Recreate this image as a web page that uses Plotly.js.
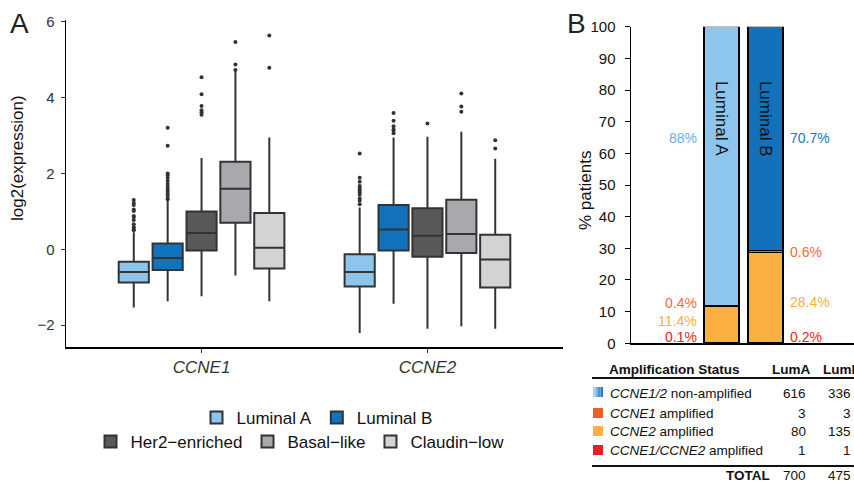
<!DOCTYPE html>
<html>
<head>
<meta charset="utf-8">
<script src="https://cdn.plot.ly/plotly-3.0.1.min.js"></script>
<style>html,body{margin:0;padding:0;background:#fff;}#chart{width:854px;height:482px;}</style>
</head>
<body>
<div id="chart"></div>
<script>
// ---------- Panel A data (box statistics) ----------
const genes = ['CCNE1', 'CCNE2'];
const subtypes = ['Luminal A', 'Luminal B', 'Her2\u2212enriched', 'Basal\u2212like', 'Claudin\u2212low'];
const subtypeColors = ['#8DC5EC', '#1272BC', '#58595B', '#A7A9AC', '#D1D3D4'];
const boxQ1 = [[-0.88, -0.98], [-0.55, -0.03], [-0.03, -0.20], [0.70, -0.10], [-0.51, -1.01]];
const boxMedian = [[-0.60, -0.60], [-0.23, 0.52], [0.43, 0.36], [1.60, 0.40], [0.04, -0.27]];
const boxQ3 = [[-0.33, -0.13], [0.15, 1.17], [1.00, 1.08], [2.31, 1.31], [0.96, 0.38]];
const boxLowerFence = [[-1.54, -2.21], [-1.37, -1.44], [-1.24, -2.10], [-0.69, -2.03], [-1.37, -2.10]];
const boxUpperFence = [[0.45, 1.10], [1.28, 2.95], [2.41, 2.97], [4.69, 3.10], [2.95, 2.39]];
const outliersLumA = [[0.50, 0.52, 0.58, 0.66, 0.77, 0.85, 0.88, 1.01, 1.05, 1.17, 1.22, 1.30],
                      [1.19, 1.28, 1.34, 1.44, 1.50, 1.56, 1.62, 1.67, 1.78, 1.89, 2.53]];
const outliersLumB = [[1.32, 1.38, 1.45, 1.52, 1.58, 1.65, 1.72, 1.80, 1.88, 1.95, 2.00, 2.73, 3.21],
                      [3.06, 3.13, 3.16, 3.25, 3.39, 3.60]];
const outliersHer2 = [[3.55, 3.62, 3.67, 3.78, 4.09, 4.54], [3.32]];
const outliersBasal = [[4.73, 4.88, 5.47], [3.63, 3.77, 4.11]];
const outliersClaudin = [[4.79, 5.64], [2.66, 2.88]];
const outliers = [outliersLumA, outliersLumB, outliersHer2, outliersBasal, outliersClaudin];

// ---------- Panel B data ----------
const lumGroups = ['LumA', 'LumB'];
const lumLabels = ['Luminal A', 'Luminal B'];
const ampStatus = ['CCNE1/2 non-amplified', 'CCNE1 amplified', 'CCNE2 amplified', 'CCNE1/CCNE2 amplified'];
const ampStatusHtml = ['<i>CCNE1/2</i> non-amplified', '<i>CCNE1</i> amplified', '<i>CCNE2</i> amplified', '<i>CCNE1/CCNE2</i> amplified'];
const countsLumA = [616, 3, 80, 1];
const countsLumB = [336, 3, 135, 1];
const nonAmpColors = ['#8DC5EC', '#1370BA'];
const ampColors = ['#1370BA', '#F15A2B', '#FBB040', '#ED1C24'];
const labelColors = ['#6AAEE3', '#1C75BC', '#F26B3A', '#FBB040', '#ED1C24'];

// ---------- helpers ----------
const W = 854, H = 482;
const px = x => x / W;
const py = y => 1 - y / H;
const FONT = '"Liberation Sans", Arial, Helvetica, sans-serif';

const traces = [];
subtypes.forEach((name, i) => {
  traces.push({
    type: 'box', name: name, x: genes,
    q1: boxQ1[i], median: boxMedian[i], q3: boxQ3[i],
    lowerfence: boxLowerFence[i], upperfence: boxUpperFence[i],
    y: outliers[i],
    boxpoints: 'outliers', pointpos: 0, jitter: 0,
    fillcolor: subtypeColors[i],
    line: {color: '#333333', width: 2},
    marker: {color: '#333333', size: 4},
    whiskerwidth: 0,
    xaxis: 'x', yaxis: 'y',
    legend: i < 2 ? 'legend' : 'legend2',
    hoverinfo: 'skip'
  });
});

const totals = [countsLumA.reduce((a, b) => a + b, 0), countsLumB.reduce((a, b) => a + b, 0)];
const pct = k => [countsLumA[k] / totals[0] * 100, countsLumB[k] / totals[1] * 100];
const fmt = v => { const s = v.toFixed(1); return (s.endsWith('.0') ? s.slice(0, -2) : s) + '%'; };

// stack order bottom -> top: both, CCNE2, CCNE1, non-amplified
[3, 2, 1, 0].forEach(k => {
  traces.push({
    type: 'bar', x: lumGroups, y: pct(k), name: ampStatus[k],
    marker: {color: k === 0 ? nonAmpColors : ampColors[k], line: {color: '#000', width: 1.5}},
    xaxis: 'x2', yaxis: 'y2', showlegend: false, hoverinfo: 'skip'
  });
});

const ann = [];
const P = (text, x, y, opts) => Object.assign({text: text, x: px(x), y: py(y), xref: 'paper', yref: 'paper', xanchor: 'center', yanchor: 'middle', showarrow: false, font: {size: 13.5, color: '#111'}}, opts || {});
// panel letters
ann.push(P('A', 19, 23, {font: {size: 28, color: '#222'}}));
ann.push(P('B', 576, 23, {font: {size: 28, color: '#222'}}));
// axis titles
ann.push(P('log2(expression)', 18, 158, {textangle: -90, font: {size: 17, color: '#111'}}));
ann.push(P('% patients', 586, 191, {textangle: -90, font: {size: 17, color: '#111'}}));
// bar inner labels
lumGroups.forEach((g, j) => {
  ann.push({text: lumLabels[j], x: g, y: 71, xref: 'x2', yref: 'y2', xanchor: 'center', yanchor: 'middle', textangle: 90, showarrow: false, font: {size: 17, color: '#111'}});
});
// percentage labels
const leftLabelY = [65, 12.8, 7.0, 2.0];
const rightLabelY = [65, 28.8, 13.1, 2.0];
[0, 1, 2, 3].forEach(k => {
  const p = pct(k);
  const col = k === 0 ? null : labelColors[k + 1];
  ann.push({text: fmt(p[0]), x: -0.4, y: leftLabelY[k], xref: 'x2', yref: 'y2', xanchor: 'right', yanchor: 'middle', xshift: -5, showarrow: false,
            font: {size: 14, color: k === 0 ? labelColors[0] : col}});
  ann.push({text: fmt(p[1]), x: 1.4, y: rightLabelY[k], xref: 'x2', yref: 'y2', xanchor: 'left', yanchor: 'middle', xshift: 5, showarrow: false,
            font: {size: 14, color: k === 0 ? labelColors[1] : col}});
});
// table
ann.push(P('<b>Amplification Status</b>', 607, 369, {xanchor: 'left'}));
ann.push(P('<b>LumA</b>', 812, 369, {xanchor: 'right'}));
ann.push(P('<b>LumB</b>', 821, 369, {xanchor: 'left'}));
const rowY = [393, 413, 431, 450];
ampStatusHtml.forEach((t, k) => {
  ann.push(P(t, 608, rowY[k], {xanchor: 'left'}));
  ann.push(P(String(countsLumA[k]), 808, rowY[k], {xanchor: 'right'}));
  ann.push(P(String(countsLumB[k]), 853, rowY[k], {xanchor: 'right'}));
});
ann.push(P('<b>TOTAL</b>', 772, 475, {xanchor: 'right'}));
ann.push(P(String(totals[0]), 808, 475, {xanchor: 'right'}));
ann.push(P(String(totals[1]), 853, 475, {xanchor: 'right'}));

const shapes = [];
shapes.push({type: 'line', xref: 'paper', yref: 'paper', x0: px(592), x1: 1, y0: py(378), y1: py(378), line: {color: '#111', width: 2}});
shapes.push({type: 'line', xref: 'paper', yref: 'paper', x0: px(592), x1: 1, y0: py(466), y1: py(466), line: {color: '#111', width: 2}});
// swatches
const gradSteps = ['#A5D0F0', '#7DB7E4', '#4C95D2', '#2A7CC2'];
gradSteps.forEach((c, s) => {
  shapes.push({type: 'rect', xref: 'paper', yref: 'paper', x0: px(593 + s * 2.5), x1: px(593 + (s + 1) * 2.5), y0: py(397), y1: py(387), fillcolor: c, line: {width: 0}});
});
[1, 2, 3].forEach(k => {
  shapes.push({type: 'rect', xref: 'paper', yref: 'paper', x0: px(593), x1: px(603), y0: py(rowY[k] + 5), y1: py(rowY[k] - 5), fillcolor: ampColors[k], line: {width: 0}});
});

const legendBase = {orientation: 'h', xanchor: 'center', yanchor: 'middle', traceorder: 'normal', font: {size: 17, color: '#111', family: FONT}, bgcolor: 'rgba(0,0,0,0)', itemwidth: 30, tracegroupgap: 0};

const layout = {
  width: W, height: H,
  margin: {l: 0, r: 0, t: 0, b: 0},
  paper_bgcolor: '#fff', plot_bgcolor: 'rgba(0,0,0,0)',
  font: {family: FONT, color: '#111'},
  boxmode: 'group', boxgap: 0.25, boxgroupgap: 0.11,
  barmode: 'stack', bargap: 0.2,
  xaxis: {domain: [px(66), px(563)], type: 'category', range: [-0.6, 1.6], showgrid: false, zeroline: false,
          showline: true, linecolor: '#000', linewidth: 1.5, ticks: 'outside', ticklen: 4, tickcolor: '#333',
          tickvals: genes, ticktext: genes.map(g => '<i>' + g + '</i>'), tickfont: {size: 17, color: '#333'}, anchor: 'y', fixedrange: true},
  yaxis: {domain: [py(347), py(19.7)], range: [-2.58, 6.06], showgrid: false, zeroline: false,
          showline: true, linecolor: '#000', linewidth: 1.5, ticks: 'outside', ticklen: 4, tickcolor: '#333', ticklabelstandoff: 3,
          tickvals: [-2, 0, 2, 4, 6], ticktext: ['\u22122', '0', '2', '4', '6'], tickfont: {size: 15, color: '#333'}, anchor: 'x', fixedrange: true},
  xaxis2: {domain: [px(631), 1], type: 'category', range: [-2.06, 3.01], showgrid: false, zeroline: false,
           showline: true, linecolor: '#000', linewidth: 1.5, showticklabels: false, ticks: '', anchor: 'y2', fixedrange: true},
  yaxis2: {domain: [py(343.3), py(26.7)], range: [0, 100], dtick: 10, showgrid: false, zeroline: false,
           showline: true, linecolor: '#000', linewidth: 1.5, ticks: 'outside', ticklen: 5, tickcolor: '#000', ticklabelstandoff: 6,
           tickfont: {size: 15, color: '#111'}, anchor: 'x2', fixedrange: true},
  legend: Object.assign({}, legendBase, {x: px(317), y: py(418)}),
  legend2: Object.assign({}, legendBase, {x: px(300), y: py(442)}),
  annotations: ann,
  shapes: shapes
};

Plotly.newPlot('chart', traces, layout, {displayModeBar: false, staticPlot: true});
</script>
</body>
</html>
